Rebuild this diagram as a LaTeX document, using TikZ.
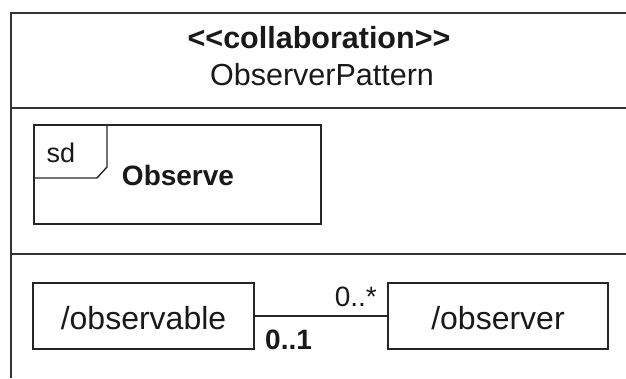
\documentclass[tikz,border=0pt]{standalone}
\usepackage{fontspec}
\setmainfont{Liberation Sans}[Ligatures=TeXOff]
\newcommand{\fs}[1]{\fontsize{#1}{#1}\selectfont}
\begin{document}
\begin{tikzpicture}[x=1pt,y=-1pt,
  frameline/.style={draw=black!80, line width=1.6pt},
  boxline/.style={draw=black!85, line width=1.4pt},
  umlbox/.style={boxline, rectangle, inner sep=0pt, minimum height=66pt},
  lbl/.style={inner sep=0pt, anchor=base, text=black!90}]
\useasboundingbox (0,0) rectangle (626,378);
% outer collaboration frame
\coordinate (ftr) at (626,13);
\coordinate (ftl) at (11,13);
\coordinate (fbl) at (11,378);
\coordinate (s1l) at (11,108);
\coordinate (s1r) at (626,108);
\coordinate (s2l) at (11,254);
\coordinate (s2r) at (626,254);
\draw[frameline] (ftr) -- (ftl) -- (fbl);
\draw[frameline] (s1l) -- (s1r);
\draw[frameline] (s2l) -- (s2r);
% header
\node[lbl] (stereo) at (319,48) {\fs{30.5}\bfseries <<collaboration>>};
\node[lbl] (name) at (322,85) {\fs{30.5}ObserverPattern};
% sd frame
\node[umlbox, minimum width=287pt, minimum height=99pt] (sdf) at (177.5,174.5) {};
\coordinate (t1) at (34,178);
\coordinate (t2) at (97,178);
\coordinate (t3) at (107,167);
\coordinate (t4) at (107,125);
\draw[boxline, line join=miter] (t1) -- (t2) -- (t3) -- (t4);
\node[lbl] (sd) at (61,162) {\fs{27}sd};
\node[lbl] (obsname) at (178,185) {\fs{28}\bfseries Observe};
% roles
\node[umlbox, minimum width=221pt] (obl) at (143.5,316) {};
\node[lbl] (oblt) at (143.5,329) {\fs{32}/observable};
\node[umlbox, minimum width=220pt] (obr) at (498,316) {};
\node[lbl] (obrt) at (498,329) {\fs{32}/observer};
\draw[boxline] (obl.east) -- (obr.west);
\node[lbl, anchor=base east] (m1) at (377,306) {\fs{28}0..*};
\node[lbl, anchor=base west] (m2) at (265,349) {\fs{28}\bfseries 0..1};
\end{tikzpicture}
\end{document}
